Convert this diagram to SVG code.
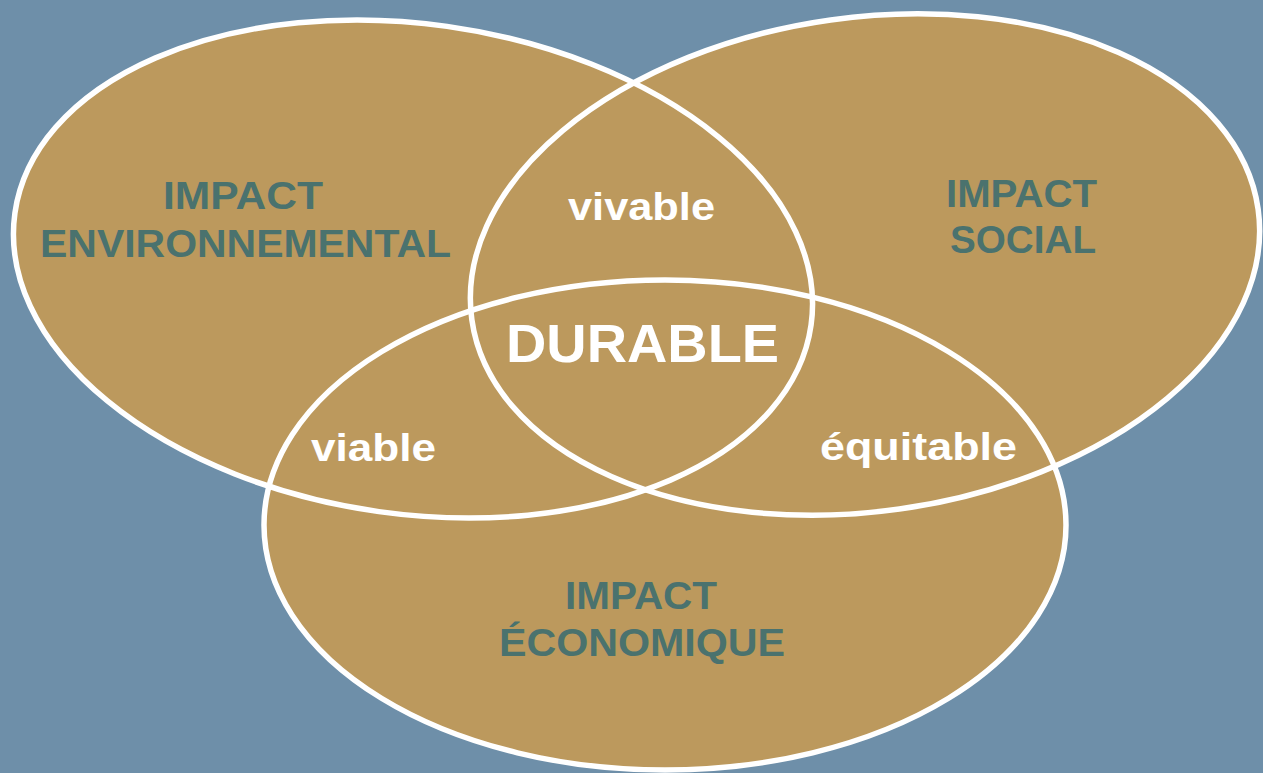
<svg xmlns="http://www.w3.org/2000/svg" width="1263" height="773" viewBox="0 0 1263 773">
<style>
.fill{fill:#bc995d;stroke:none}
.ring{fill:none;stroke:#ffffff;stroke-width:5.5}
.lbl{font-family:"Liberation Sans",Arial,sans-serif;font-weight:bold;fill:#4a726e;font-size:38px}
.mid{font-family:"Liberation Sans",Arial,sans-serif;font-weight:bold;fill:#ffffff;font-size:38px}
.big{font-family:"Liberation Sans",Arial,sans-serif;font-weight:bold;fill:#ffffff;font-size:54px}
</style>
<rect x="0" y="0" width="1263" height="773" fill="#6e8fa9"/>
<g id="fills">
<ellipse class="fill" cx="413" cy="269" rx="402" ry="245" transform="rotate(8 413 269)"/>
<ellipse class="fill" cx="865" cy="264.5" rx="397" ry="247" transform="rotate(-8 865 264.5)"/>
<ellipse class="fill" cx="665" cy="525" rx="401" ry="245"/>
</g>
<g id="env">
<ellipse class="ring" cx="413" cy="269" rx="402" ry="245" transform="rotate(8 413 269)"/>
<text class="lbl" x="163" y="209" textLength="160" lengthAdjust="spacingAndGlyphs">IMPACT</text>
<text class="lbl" x="40" y="257" textLength="411" lengthAdjust="spacingAndGlyphs">ENVIRONNEMENTAL</text>
</g>
<g id="social">
<ellipse class="ring" cx="865" cy="264.5" rx="397" ry="247" transform="rotate(-8 865 264.5)"/>
<text class="lbl" x="946" y="207" textLength="151" lengthAdjust="spacingAndGlyphs">IMPACT</text>
<text class="lbl" x="950" y="253" textLength="146" lengthAdjust="spacingAndGlyphs">SOCIAL</text>
</g>
<g id="eco">
<ellipse class="ring" cx="665" cy="525" rx="401" ry="245"/>
<text class="lbl" x="565" y="609" textLength="152" lengthAdjust="spacingAndGlyphs">IMPACT</text>
<text class="lbl" x="499" y="656" textLength="286" lengthAdjust="spacingAndGlyphs">ÉCONOMIQUE</text>
</g>
<g id="connectors"></g>
<g id="vivable"><text class="mid" x="568" y="220" textLength="147" lengthAdjust="spacingAndGlyphs">vivable</text></g>
<g id="viable"><text class="mid" x="311" y="461" textLength="125" lengthAdjust="spacingAndGlyphs">viable</text></g>
<g id="equitable"><text class="mid" x="820" y="460" textLength="197" lengthAdjust="spacingAndGlyphs">équitable</text></g>
<g id="durable"><text class="big" x="506" y="362" textLength="273" lengthAdjust="spacingAndGlyphs">DURABLE</text></g>
</svg>
